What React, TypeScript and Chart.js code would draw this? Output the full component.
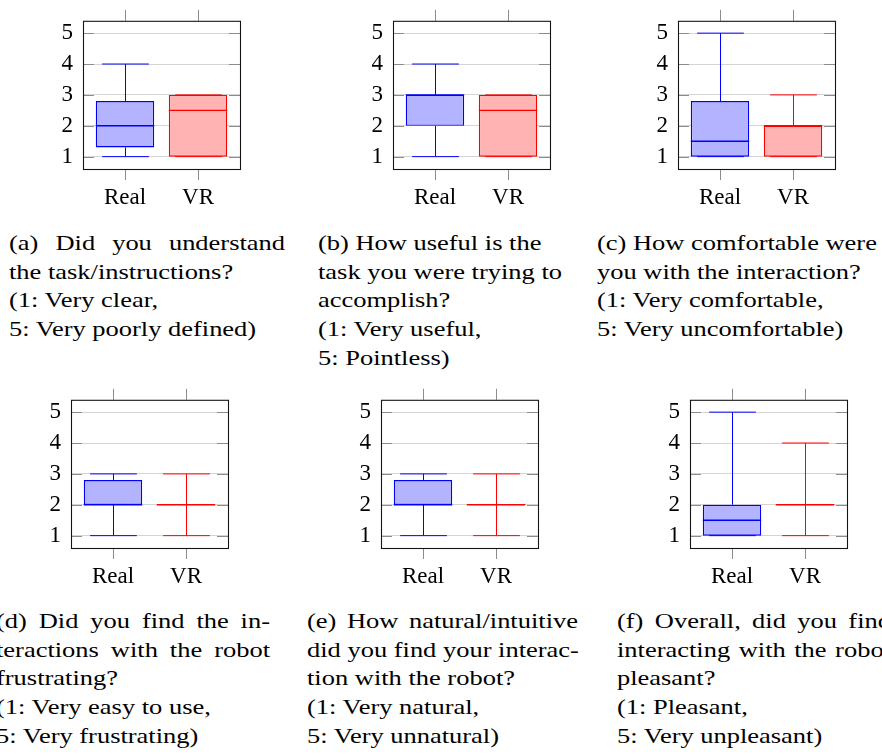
import React, { useEffect, useRef } from 'react';
import { Chart, registerables } from 'chart.js';

Chart.register(...registerables);

// ---------- data ----------
const CATEGORIES = ['Real', 'VR'];
const CATEGORY_X = [1, 2];
const Y_TICKS = [1, 2, 3, 4, 5];

// five-number summaries: [min, q1, median, q3, max]
const A_REAL = [1, 1.3, 2, 2.8, 4];
const A_VR = [1, 1, 2.5, 3, 3];
const B_REAL = [1, 2, 3, 3, 4];
const B_VR = [1, 1, 2.5, 3, 3];
const C_REAL = [1, 1, 1.5, 2.8, 5];
const C_VR = [1, 1, 2, 2, 3];
const D_REAL = [1, 2, 2, 2.8, 3];
const D_VR = [1, 2, 2, 2, 3];
const E_REAL = [1, 2, 2, 2.8, 3];
const E_VR = [1, 2, 2, 2, 3];
const F_REAL = [1, 1, 1.5, 2, 5];
const F_VR = [1, 2, 2, 2, 4];

const CAPTION_A = ['(a) Did you understand', 'the task/instructions?', '(1: Very clear,', '5: Very poorly defined)'];
const CAPTION_B = ['(b) How useful is the', 'task you were trying to', 'accomplish?', '(1: Very useful,', '5: Pointless)'];
const CAPTION_C = ['(c) How comfortable were', 'you with the interaction?', '(1: Very comfortable,', '5: Very uncomfortable)'];
const CAPTION_D = ['(d) Did you find the in-', 'teractions with the robot', 'frustrating?', '(1: Very easy to use,', '5: Very frustrating)'];
const CAPTION_E = ['(e) How natural/intuitive', 'did you find your interac-', 'tion with the robot?', '(1: Very natural,', '5: Very unnatural)'];
const CAPTION_F = ['(f) Overall, did you find', 'interacting with the robot', 'pleasant?', '(1: Pleasant,', '5: Very unpleasant)'];

// ---------- style ----------
const FONT = '"Liberation Serif", "Times New Roman", serif';
const CAP_SIZE = 21;
const CAP_STRETCH = 1.26;
const TICK_SIZE = 23;
const STROKES = ['rgb(0,0,255)', 'rgb(255,0,0)'];
const FILLS = ['rgb(179,179,255)', 'rgb(255,179,179)'];
const FRAME_W = 157;
const FRAME_H = 157;
const AXIS_L = 50;
const AXIS_B = 50;
const PAD = 15;

type Panel = {
  real: number[];
  vr: number[];
  caption: string[];
  fx: number;
  fy: number;
  cx: number;
  cy: number;
  cw: number;
  justify: number;
};

const PANELS: Panel[] = [
  { real: A_REAL, vr: A_VR, caption: CAPTION_A, fx: 83, fy: 12, cx: 9, cy: 229, cw: 276, justify: 1 },
  { real: B_REAL, vr: B_VR, caption: CAPTION_B, fx: 393, fy: 12, cx: 318, cy: 229, cw: 276, justify: 0 },
  { real: C_REAL, vr: C_VR, caption: CAPTION_C, fx: 678, fy: 12, cx: 597, cy: 229, cw: 290, justify: 0 },
  { real: D_REAL, vr: D_VR, caption: CAPTION_D, fx: 71, fy: 391, cx: -4, cy: 607, cw: 274, justify: 2 },
  { real: E_REAL, vr: E_VR, caption: CAPTION_E, fx: 381, fy: 391, cx: 307, cy: 607, cw: 271, justify: 2 },
  { real: F_REAL, vr: F_VR, caption: CAPTION_F, fx: 690, fy: 391, cx: 617, cy: 607, cw: 274, justify: 2 },
];

function BoxChart({ real, vr }: { real: number[]; vr: number[] }) {
  const ref = useRef<HTMLCanvasElement>(null);
  useEffect(() => {
    if (!ref.current) return;
    const stats = [real, vr];
    const line = (ctx: CanvasRenderingContext2D, x1: number, y1: number, x2: number, y2: number) => {
      ctx.beginPath();
      ctx.moveTo(x1, y1);
      ctx.lineTo(x2, y2);
      ctx.stroke();
    };
    const boxPlugin = {
      id: 'boxWhiskers',
      afterDatasetsDraw(chart: any) {
        const ctx = chart.ctx as CanvasRenderingContext2D;
        const ys = chart.scales.y;
        const meta = chart.getDatasetMeta(0);
        meta.data.forEach((bar: any, i: number) => {
          const [mn, q1, med, q3, mx] = stats[i];
          const cx = Math.round(bar.x) + 0.5;
          const half = bar.width / 2;
          const capHalf = half * 0.8;
          ctx.save();
          ctx.strokeStyle = STROKES[i];
          ctx.lineWidth = 1;
          const pMin = ys.getPixelForValue(mn);
          const pMax = ys.getPixelForValue(mx);
          const pQ1 = ys.getPixelForValue(q1);
          const pQ3 = ys.getPixelForValue(q3);
          const pMed = ys.getPixelForValue(med);
          line(ctx, cx, pQ3, cx, pMax);
          line(ctx, cx, pQ1, cx, pMin);
          line(ctx, cx - capHalf, pMax, cx + capHalf, pMax);
          line(ctx, cx - capHalf, pMin, cx + capHalf, pMin);
          ctx.lineWidth = 1.4;
          line(ctx, bar.x - half, pMed, bar.x + half, pMed);
          ctx.restore();
        });
      },
      afterDraw(chart: any) {
        const ctx = chart.ctx as CanvasRenderingContext2D;
        const { left, right, top, bottom } = chart.chartArea;
        const ys = chart.scales.y;
        const xs = chart.scales.x;
        ctx.save();
        ctx.strokeStyle = 'rgb(140,140,140)';
        ctx.lineWidth = 1;
        Y_TICKS.forEach((v) => {
          const p = Math.round(ys.getPixelForValue(v)) + 0.5;
          line(ctx, left, p, left + 11, p);
          line(ctx, right - 11, p, right, p);
        });
        CATEGORY_X.forEach((v) => {
          const p = Math.round(xs.getPixelForValue(v)) + 0.5;
          line(ctx, p, top - 11, p, top);
          line(ctx, p, bottom, p, bottom + 11);
        });
        ctx.strokeStyle = 'rgb(20,20,20)';
        ctx.lineWidth = 1.1;
        ctx.strokeRect(left + 0.5, top + 0.5, right - left, bottom - top);
        ctx.restore();
      },
    };

    const chart = new Chart(ref.current, {
      type: 'bar',
      data: {
        datasets: [
          {
            data: CATEGORY_X.map((x, i) => ({ x, y: [stats[i][1], stats[i][3]] })) as any,
            backgroundColor: FILLS,
            borderColor: STROKES,
            borderWidth: 1.3,
            borderSkipped: false,
            barPercentage: 0.8,
            categoryPercentage: 1,
          },
        ],
      },
      options: {
        responsive: false,
        animation: false,
        layout: { padding: { top: PAD, right: PAD, left: 0, bottom: 0 } },
        plugins: { legend: { display: false }, tooltip: { enabled: false } },
        scales: {
          x: {
            type: 'linear',
            min: 0.425,
            max: 2.575,
            offset: false,
            afterBuildTicks: (s: any) => {
              s.ticks = CATEGORY_X.map((v) => ({ value: v }));
            },
            afterFit: (s: any) => {
              s.height = AXIS_B;
            },
            grid: { display: false, drawTicks: false },
            border: { display: false },
            ticks: {
              autoSkip: false,
              maxRotation: 0,
              padding: 15,
              color: '#000',
              font: { family: FONT, size: TICK_SIZE },
              callback: (_v: any, i: number) => CATEGORIES[i],
            },
          },
          y: {
            type: 'linear',
            min: 0.6,
            max: 5.4,
            afterBuildTicks: (s: any) => {
              s.ticks = Y_TICKS.map((v) => ({ value: v }));
            },
            afterFit: (s: any) => {
              s.width = AXIS_L;
            },
            grid: { color: 'rgb(212,212,212)', lineWidth: 1, drawTicks: false },
            border: { display: false },
            ticks: {
              padding: 10,
              color: '#000',
              font: { family: FONT, size: TICK_SIZE },
            },
          },
        },
      },
      plugins: [boxPlugin],
    } as any);
    return () => chart.destroy();
  }, [real, vr]);
  return (
    <canvas
      ref={ref}
      width={AXIS_L + FRAME_W + PAD}
      height={PAD + FRAME_H + AXIS_B}
      style={{ display: 'block', width: AXIS_L + FRAME_W + PAD, height: PAD + FRAME_H + AXIS_B }}
    />
  );
}

export default function App() {
  return (
    <div
      style={{
        position: 'fixed',
        left: 0,
        top: 0,
        width: 882,
        height: 756,
        overflow: 'hidden',
        background: '#fff',
      }}
    >
      {PANELS.map((p, k) => (
        <React.Fragment key={k}>
          <div style={{ position: 'absolute', left: p.fx - AXIS_L, top: p.fy - PAD }}>
            <BoxChart real={p.real} vr={p.vr} />
          </div>
          <div
            style={{
              position: 'absolute',
              left: p.cx,
              top: p.cy,
              width: p.cw / CAP_STRETCH,
              transform: `scaleX(${CAP_STRETCH})`,
              transformOrigin: '0 0',
              fontFamily: FONT,
              fontSize: CAP_SIZE,
              lineHeight: '28.7px',
              color: '#000',
            }}
          >
            {p.caption.map((l, i) => (
              <div
                key={i}
                style={
                  i < p.justify
                    ? { textAlign: 'justify', textAlignLast: 'justify', whiteSpace: 'nowrap' as any }
                    : { whiteSpace: 'nowrap' }
                }
              >
                {l}
              </div>
            ))}
          </div>
        </React.Fragment>
      ))}
    </div>
  );
}
